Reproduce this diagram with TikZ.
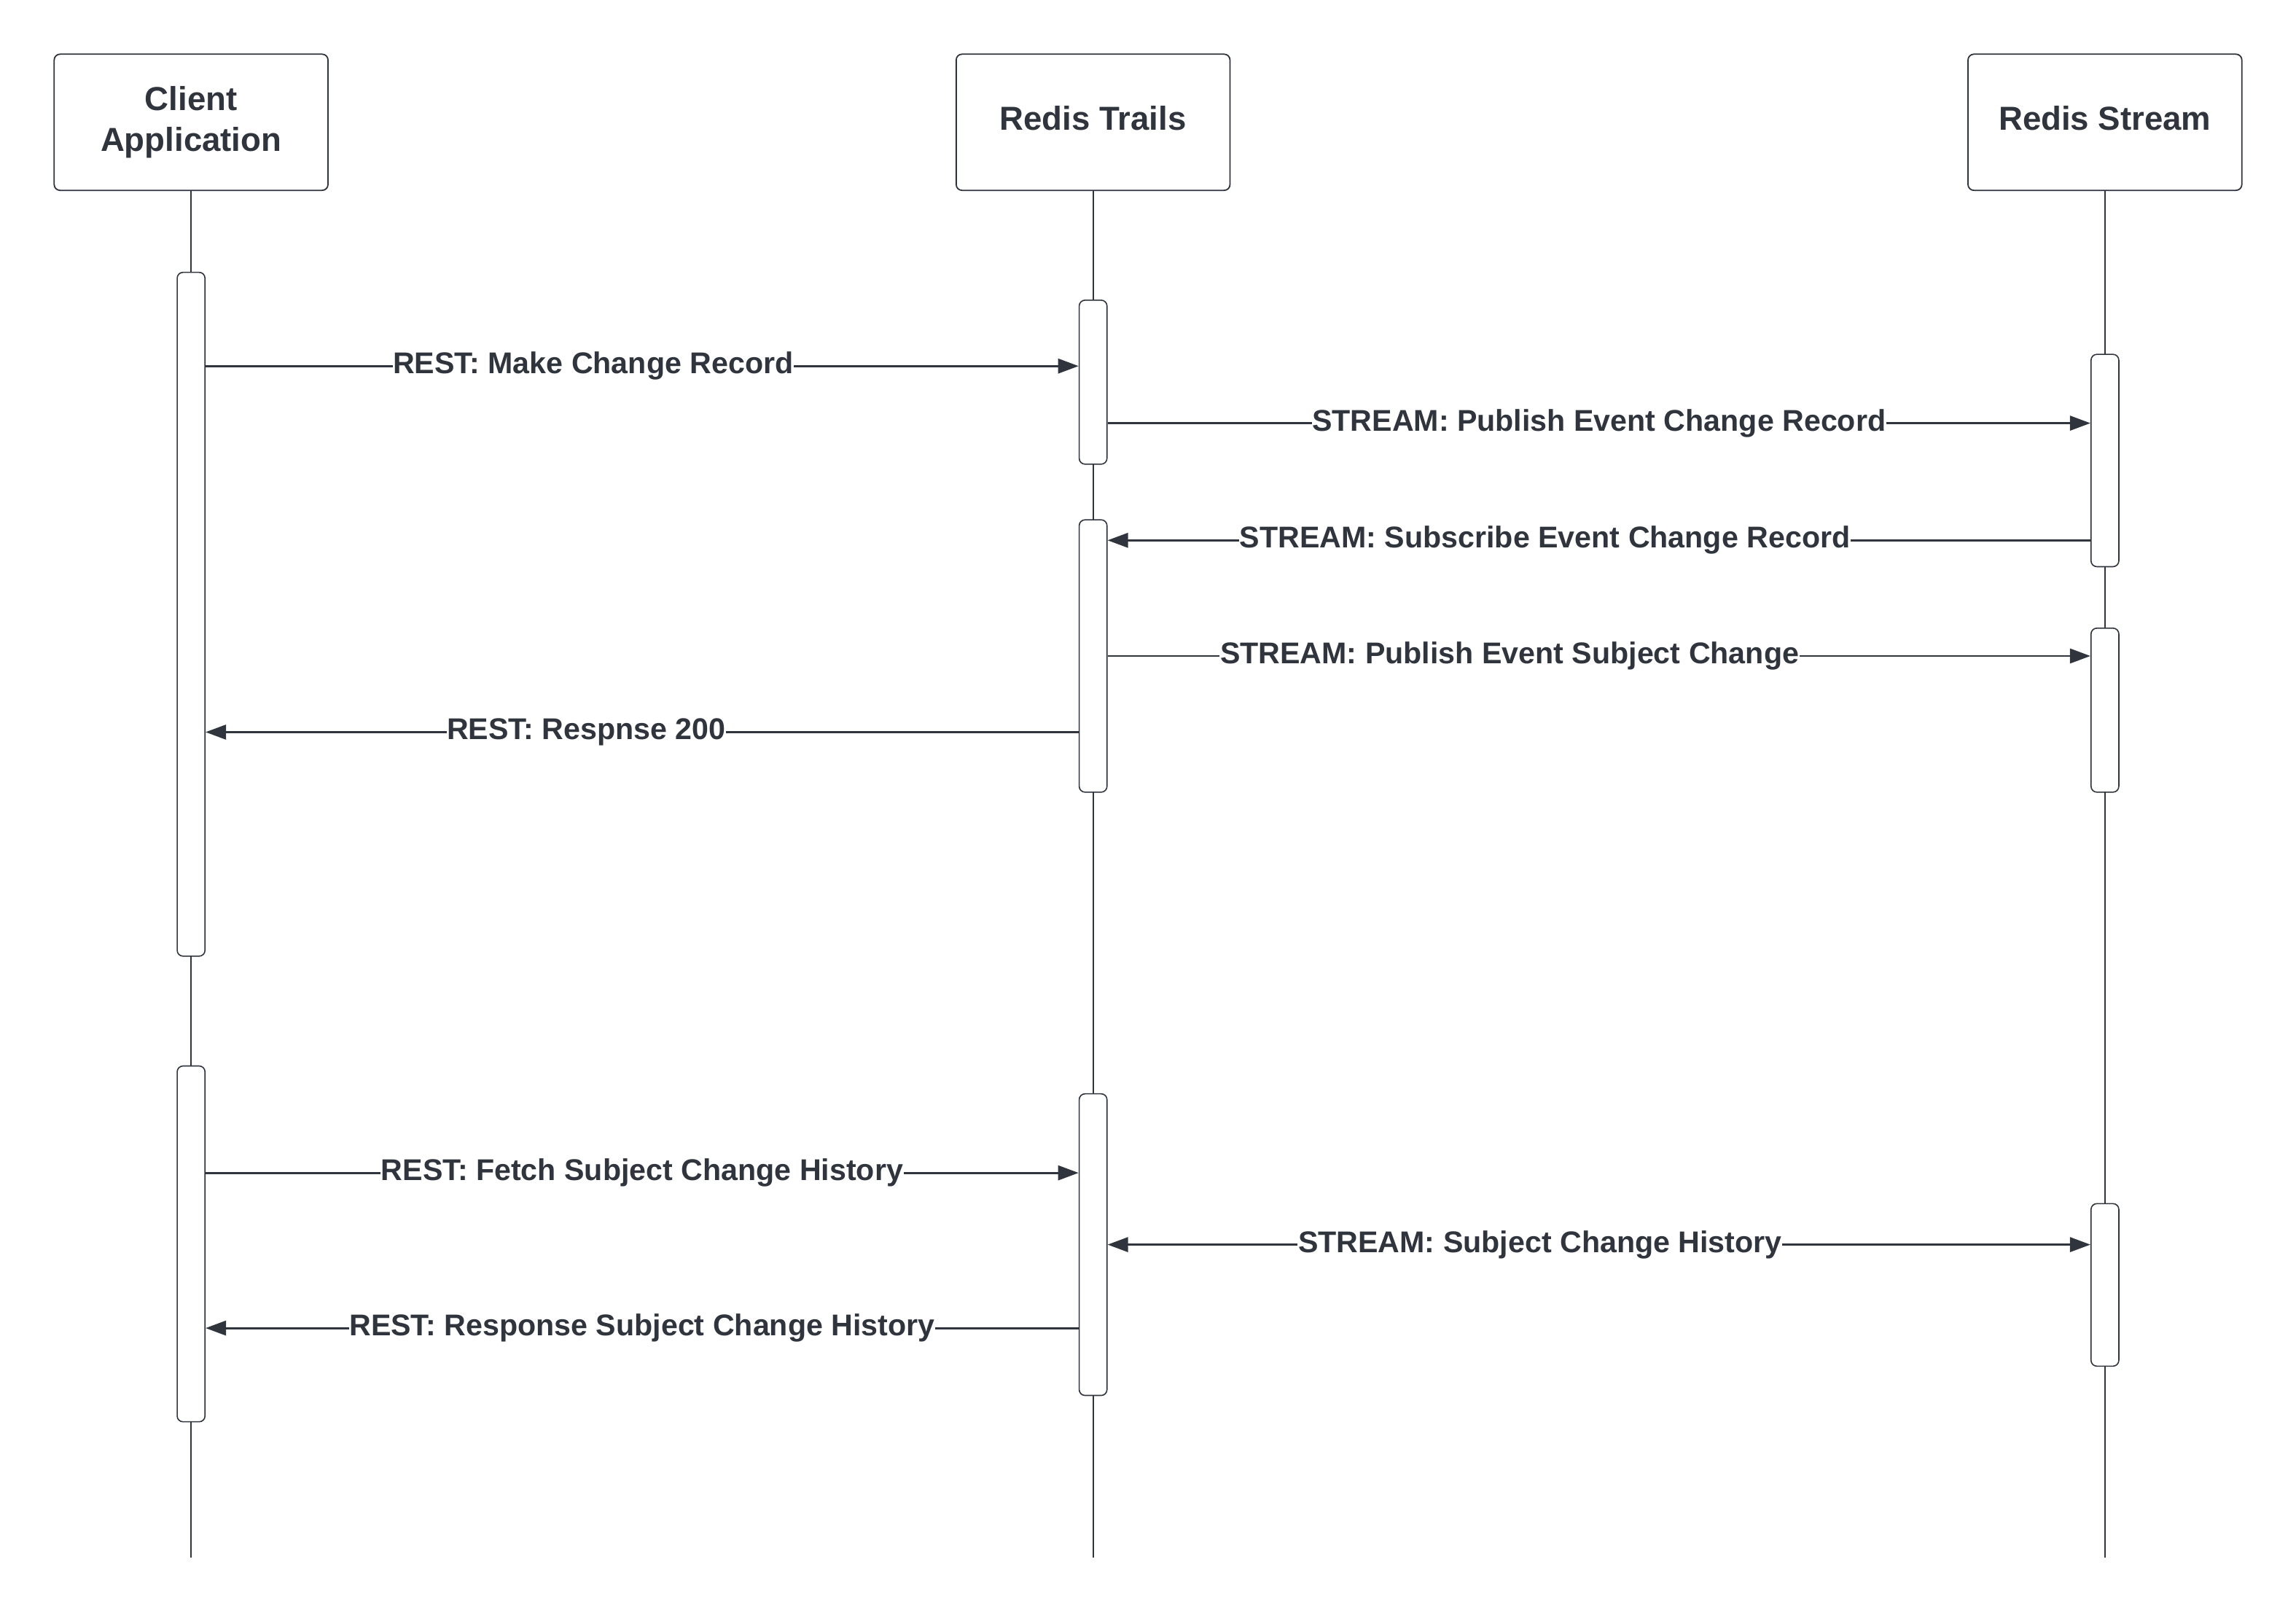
\documentclass[tikz,border=0pt]{standalone}
\usepackage{fontspec}
\setmainfont{Liberation Sans}
\usepackage[HTML]{xcolor}
\usepackage{tikz}
\usetikzlibrary{positioning, arrows.meta}
\definecolor{ink}{HTML}{30353D}

\begin{document}
\begin{tikzpicture}[x=1pt,y=-1pt,
  head/.style={draw=ink, line width=0.9pt, rounded corners=4pt, minimum width=187pt,
    minimum height=93pt, align=center, text=ink, font=\fontsize{22.7}{27.5}\selectfont\bfseries},
  act/.style={draw=ink, line width=0.8pt, fill=white, rounded corners=4pt,
    minimum width=19pt, inner sep=0pt},
  life/.style={draw=ink, line width=1.1pt},
  msg/.style={draw=ink, line width=1.4pt, -{Triangle[length=14pt,width=10pt]}},
  lbl/.style={fill=white, text=ink, inner sep=0.3pt, font=\fontsize{20.5}{24}\selectfont\bfseries}]
\useasboundingbox (0,0) rectangle (1568,1101.5);

% lifeline heads
\node[head] (client) at (130.5,83.5) {Client\\Application};
\node[head, text depth=6pt] (trails) at (746.5,83.5) {Redis Trails};
\node[head, text depth=6pt] (stream) at (1437.5,83.5) {Redis Stream};

% lifelines
\draw[life] (client) -- (client |- 0,1063.5);
\draw[life] (trails) -- (trails |- 0,1063.5);
\draw[life] (stream) -- (stream |- 0,1063.5);

% activations
\node[act, minimum height=467pt] (ca1) at (130.5,419.5) {};
\node[act, minimum height=243pt] (ca2) at (130.5,849.5) {};
\node[act, minimum height=112pt] (ta1) at (746.5,261) {};
\node[act, minimum height=186pt] (ta2) at (746.5,448) {};
\node[act, minimum height=206pt] (ta3) at (746.5,850) {};
\node[act, minimum height=145pt] (sa1) at (1437.5,314.5) {};
\node[act, minimum height=112pt] (sa2) at (1437.5,485) {};
\node[act, minimum height=111pt] (sa3) at (1437.5,877.5) {};

% change record
\draw[msg] (ca1.east |- 0,250) -- node[lbl, pos=0.444] {REST: Make Change Record} (ta1.west |- 0,250);
\draw[msg] (ta1.east |- 0,289) -- node[lbl, pos=0.5] {STREAM: Publish Event Change Record} (sa1.west |- 0,289);
\draw[msg] (sa1.west |- 0,369) -- node[lbl, pos=0.555] {STREAM: Subscribe Event Change Record} (ta2.east |- 0,369);
\draw[msg] (ta2.east |- 0,448) -- node[lbl, pos=0.409] {STREAM: Publish Event Subject Change} (sa2.west |- 0,448);
\draw[msg] (ta2.west |- 0,500) -- node[lbl, pos=0.564] {REST: Respnse 200} (ca1.east |- 0,500);

% history
\draw[msg] (ca2.east |- 0,801) -- node[lbl, pos=0.5] {REST: Fetch Subject Change History} (ta3.west |- 0,801);
\draw[msg, {Triangle[length=14pt,width=10pt]}-{Triangle[length=14pt,width=10pt]}]
  (ta3.east |- 0,850) -- node[lbl, pos=0.44] {STREAM: Subject Change History} (sa3.west |- 0,850);
\draw[msg] (ta3.west |- 0,907) -- node[lbl, pos=0.5] {REST: Response Subject Change History} (ca2.east |- 0,907);
\end{tikzpicture}
\end{document}
